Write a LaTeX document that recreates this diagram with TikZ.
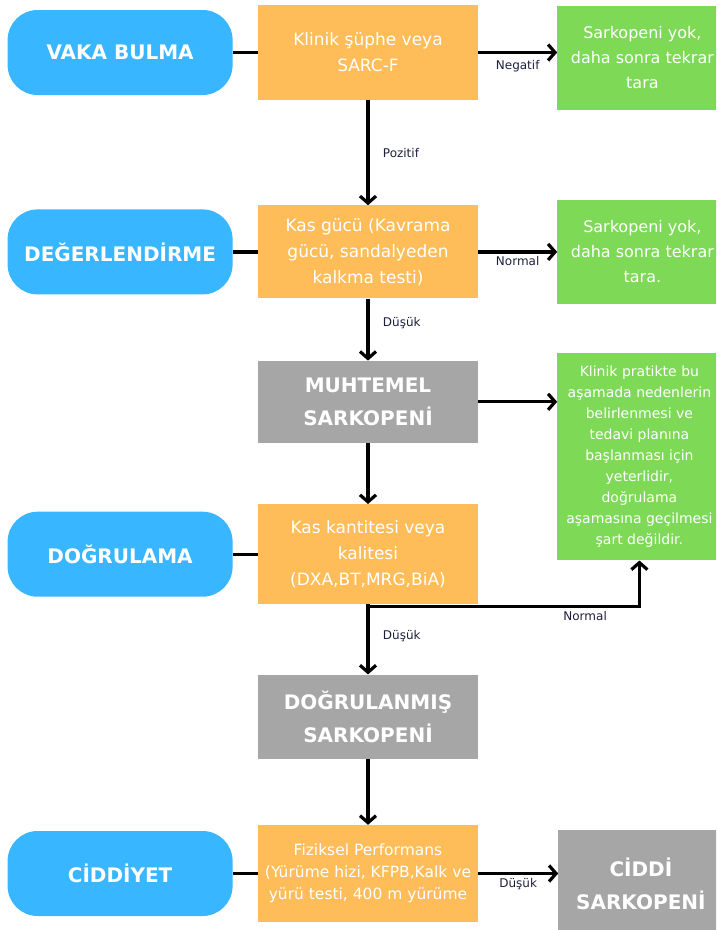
\documentclass[tikz,border=0pt]{standalone}
\usepackage{fontspec}
\setmainfont{DejaVu Sans}
\setsansfont{DejaVu Sans}
\usetikzlibrary{positioning, arrows.meta, calc}
\definecolor{clrstage}{HTML}{38B6FF}
\definecolor{clrstep}{HTML}{FFBD59}
\definecolor{clrresult}{HTML}{7ED957}
\definecolor{clrverdict}{HTML}{A6A6A6}
\definecolor{clrline}{HTML}{000000}
\definecolor{clrtext}{HTML}{1E1E3C}

\begin{document}
\begin{tikzpicture}[
    x=1pt, y=1pt,
    every node/.style={font=\sffamily},
    stage/.style={fill=clrstage, rounded corners=30pt, minimum width=225pt,
                  minimum height=85pt, text=white, font=\sffamily\fontsize{20}{24}\selectfont\bfseries},
    stepbox/.style={fill=clrstep, minimum width=220pt, text=white, align=center,
                    inner xsep=2pt, font=\sffamily\fontsize{17}{26}\selectfont},
    result/.style={fill=clrresult, minimum width=170pt, text=white, align=center,
                   inner xsep=2pt, font=\sffamily\fontsize{16}{25}\selectfont},
    verdict/.style={fill=clrverdict, minimum width=220pt, text=white, align=center,
                    font=\sffamily\fontsize{20}{33}\selectfont\bfseries},
    arrow/.style={-{Straight Barb[length=7pt, width=16pt]}, line width=3.2pt, color=clrline},
    link/.style={line width=3.2pt, color=clrline},
    edgelabel/.style={font=\sffamily\fontsize{12}{14}\selectfont, text=clrtext},
]
\useasboundingbox (0,0) rectangle (716,-930);
\clip (0,0) rectangle (716,-930);
% steps
\node[stepbox, minimum height=95pt] (n_1) at (368,-52.5) {Klinik şüphe veya\\SARC-F};
\node[stepbox, minimum height=93pt, below=105pt of n_1] (n_2) {Kas gücü (Kavrama\\gücü, sandalyeden\\kalkma testi)};
\node[verdict, minimum height=82pt, below=62pt of n_2] (n_3) {MUHTEMEL\\SARKOPENİ};
\node[stepbox, minimum height=100pt, below=61pt of n_3] (n_4) {Kas kantitesi veya\\kalitesi\\(DXA,BT,MRG,BiA)};
\node[verdict, minimum height=84pt, below=70pt of n_4] (n_5) {DOĞRULANMIŞ\\SARKOPENİ};
\node[stepbox, minimum height=97pt, below=66pt of n_5, font=\sffamily\fontsize{15.5}{22}\selectfont] (n_6) {Fiziksel Performans\\(Yürüme hizi, KFPB,Kalk ve\\yürü testi, 400 m yürüme};
% stages
\node[stage, left=25pt of n_1] (stage_1) {VAKA BULMA};
\node[stage, left=25pt of n_2] (stage_2) {DEĞERLENDİRME};
\node[stage, left=25pt of n_4] (stage_3) {DOĞRULAMA};
\node[stage, left=25pt of n_6] (stage_4) {CİDDİYET};
% results
\node[result, minimum height=104pt, right=79pt of n_1, yshift=-5pt] (res_1) {Sarkopeni yok,\\daha sonra tekrar\\tara};
\node[result, minimum height=104pt, right=79pt of n_2] (res_2) {Sarkopeni yok,\\daha sonra tekrar\\tara.};
\node[result, minimum width=164pt, minimum height=207pt, right=79pt of n_3, yshift=-55pt, font=\sffamily\fontsize{14}{21}\selectfont] (res_3) {Klinik pratikte bu\\aşamada nedenlerin\\belirlenmesi ve\\tedavi planına\\başlanması için\\yeterlidir,\\doğrulama\\aşamasına geçilmesi\\şart değildir.};
\node[verdict, minimum width=165pt, minimum height=108pt, right=80pt of n_6, yshift=-10pt] (res_4) {CİDDİ\\SARKOPENİ};
\coordinate[below=2pt of n_4.south] (split_1);
\draw[link] (stage_1.east) -- (n_1.west);
\draw[link] (stage_2.east) -- (n_2.west);
\draw[link] (stage_3.east) -- (n_4.west);
\draw[link] (stage_4.east) -- (n_6.west);
\draw[arrow] (n_1.east) -- node[edgelabel, below, yshift=-3pt] {Negatif} (n_1.east -| res_1.west);
\draw[arrow] (n_1.south) -- node[edgelabel, right, xshift=10pt] {Pozitif} (n_2.north);
\draw[arrow] (n_2.east) -- node[edgelabel, below] {Normal} (res_2.west);
\draw[arrow] (n_2.south) -- node[edgelabel, right, xshift=10pt, pos=0.4] {Düşük} (n_3.north);
\draw[arrow] (n_3.east) -- (n_3.east -| res_3.west);
\draw[arrow] (n_3.south) -- (n_4.north);
\draw[arrow] (n_4.south) -- node[edgelabel, right, xshift=10pt, pos=0.45] {Düşük} (n_5.north);
\draw[arrow] (split_1) -| node[edgelabel, below, pos=0.4] {Normal} (res_3.south);
\draw[arrow] (n_5.south) -- (n_6.north);
\draw[arrow] (n_6.east) -- node[edgelabel, below] {Düşük} (n_6.east -| res_4.west);
\end{tikzpicture}
\end{document}
